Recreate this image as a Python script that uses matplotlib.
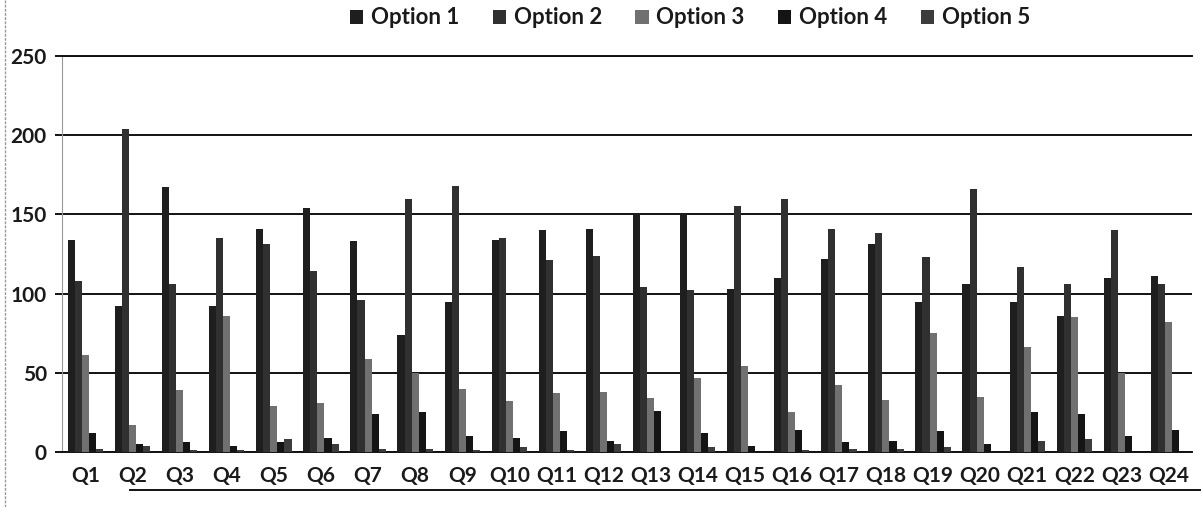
import numpy as np
import matplotlib.pyplot as plt
from matplotlib.lines import Line2D

questions = ["Q%d" % i for i in range(1, 25)]
option1 = [134, 92, 167, 92, 141, 154, 133, 74, 95, 134, 140, 141, 151, 151, 103, 110, 122, 131, 95, 106, 95, 86, 110, 111]
option2 = [108, 204, 106, 135, 131, 114, 96, 160, 168, 135, 121, 124, 104, 102, 155, 160, 141, 138, 123, 166, 117, 106, 140, 106]
option3 = [61, 17, 39, 86, 29, 31, 59, 50, 40, 32, 37, 38, 34, 47, 54, 25, 42, 33, 75, 35, 66, 85, 50, 82]
option4 = [12, 5, 6, 4, 6, 9, 24, 25, 10, 9, 13, 7, 26, 12, 4, 14, 6, 7, 13, 5, 25, 24, 10, 14]
option5 = [2, 4, 1, 1, 8, 5, 2, 2, 1, 3, 1, 5, 0, 3, 0, 1, 2, 2, 3, 0, 7, 8, 0, 0]
series = [option1, option2, option3, option4, option5]
labels = ["Option 1", "Option 2", "Option 3", "Option 4", "Option 5"]
colors = ['#1e1e1e', '#303030', '#707070', '#141414', '#3c3c3c']

plt.rcParams['font.family'] = ['Lato', 'DejaVu Sans']

fig = plt.figure(figsize=(12.02, 5.07), dpi=100)
ax = fig.add_axes([62 / 1202, 1 - 452 / 507, 1130 / 1202, 396 / 507])

x = np.arange(len(questions))
w = 0.15
for i, (vals, lab, col) in enumerate(zip(series, labels, colors)):
    ax.bar(x + (i - 2) * w, vals, width=w, color=col, label=lab, zorder=3)

ax.set_ylim(0, 250)
ax.set_xlim(-0.5, len(questions) - 0.5)
ax.set_yticks([0, 50, 100, 150, 200, 250])
ax.set_xticks(x)
ax.set_xticklabels(questions)
ax.yaxis.grid(True, color='#111111', linewidth=1.4, zorder=0)
ax.spines['right'].set_visible(False)
# top spine stands in for the 250 gridline
ax.spines['top'].set_color('#111111')
ax.spines['top'].set_linewidth(1.4)
ax.spines['bottom'].set_color('#111111')
ax.spines['bottom'].set_linewidth(1.4)
ax.spines['left'].set_color('#999999')
ax.spines['left'].set_linewidth(0.8)
ax.spines['left'].set_linestyle((0, (2, 1)))
ax.tick_params(axis='y', length=5, width=1.4, color='#111111', pad=6, labelsize=15)
ax.tick_params(axis='x', length=0, pad=10, labelsize=15)
for t in ax.get_xticklabels() + ax.get_yticklabels():
    t.set_fontweight('bold')
    t.set_color('#1a1a1a')

leg = fig.legend(loc='center', bbox_to_anchor=(690 / 1202, 1 - 18 / 507), ncol=5, frameon=False,
                 fontsize=16, handlelength=0.6, handleheight=0.6, columnspacing=1.5, handletextpad=0.35)
for t in leg.get_texts():
    t.set_fontweight('bold')
    t.set_color('#1a1a1a')

# scan border lines
fig.add_artist(Line2D([5 / 1202, 5 / 1202], [0, 1], color='#999999', linewidth=1, linestyle=(0, (2, 1))))
fig.add_artist(Line2D([130 / 1202, 1200 / 1202], [1 - 490 / 507, 1 - 490 / 507], color='#111111', linewidth=1.4))

fig.savefig("out.png", dpi=100)
